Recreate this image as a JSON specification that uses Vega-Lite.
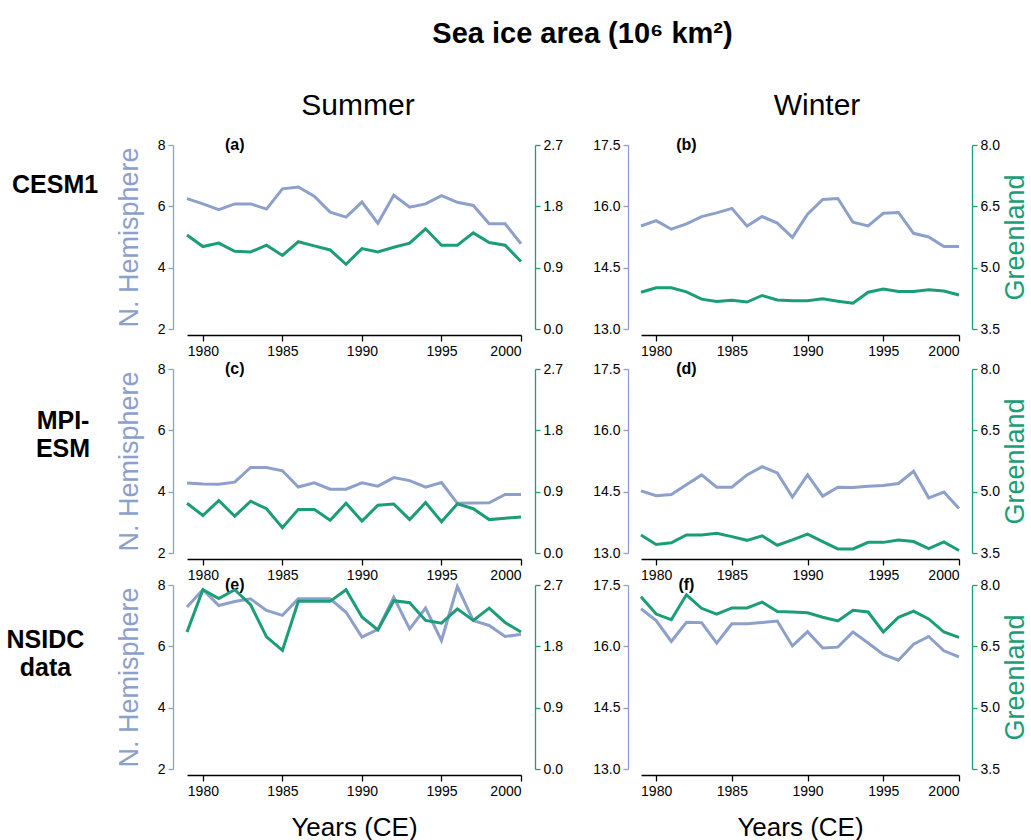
{
  "$schema": "https://vega.github.io/schema/vega-lite/v6.json",
  "padding": {"left": 6, "top": 20, "right": 0, "bottom": 2},
  "background": "white",
  "title": {"text": "Sea ice area (10⁶ km²)", "fontSize": 29, "fontWeight": "bold", "color": "#000", "anchor": "middle", "dx": 65, "offset": 42},
  "config": {
    "font": "Liberation Sans",
    "view": {"stroke": null},
    "axis": {"grid": false, "labelFontSize": 14, "labelColor": "#000", "labelFont": "Liberation Sans", "tickSize": 5, "tickWidth": 1.3, "domainWidth": 1.3, "titleFont": "Liberation Sans", "titleFontWeight": "normal", "labelPadding": 3},
    "title": {"font": "Liberation Sans", "color": "#000"}
  },
  "datasets": {
    "ice": [
      {"model":"CESM1","season":"Summer","year":1979,"nh":6.25,"gl":1.38},
      {"model":"CESM1","season":"Summer","year":1980,"nh":6.08,"gl":1.21},
      {"model":"CESM1","season":"Summer","year":1981,"nh":5.89,"gl":1.26},
      {"model":"CESM1","season":"Summer","year":1982,"nh":6.08,"gl":1.14},
      {"model":"CESM1","season":"Summer","year":1983,"nh":6.08,"gl":1.13},
      {"model":"CESM1","season":"Summer","year":1984,"nh":5.91,"gl":1.23},
      {"model":"CESM1","season":"Summer","year":1985,"nh":6.57,"gl":1.08},
      {"model":"CESM1","season":"Summer","year":1986,"nh":6.63,"gl":1.28},
      {"model":"CESM1","season":"Summer","year":1987,"nh":6.33,"gl":1.22},
      {"model":"CESM1","season":"Summer","year":1988,"nh":5.81,"gl":1.16},
      {"model":"CESM1","season":"Summer","year":1989,"nh":5.65,"gl":0.95},
      {"model":"CESM1","season":"Summer","year":1990,"nh":6.14,"gl":1.18},
      {"model":"CESM1","season":"Summer","year":1991,"nh":5.45,"gl":1.13},
      {"model":"CESM1","season":"Summer","year":1992,"nh":6.36,"gl":1.20},
      {"model":"CESM1","season":"Summer","year":1993,"nh":5.97,"gl":1.26},
      {"model":"CESM1","season":"Summer","year":1994,"nh":6.08,"gl":1.47},
      {"model":"CESM1","season":"Summer","year":1995,"nh":6.35,"gl":1.23},
      {"model":"CESM1","season":"Summer","year":1996,"nh":6.13,"gl":1.23},
      {"model":"CESM1","season":"Summer","year":1997,"nh":6.03,"gl":1.41},
      {"model":"CESM1","season":"Summer","year":1998,"nh":5.43,"gl":1.27},
      {"model":"CESM1","season":"Summer","year":1999,"nh":5.43,"gl":1.23},
      {"model":"CESM1","season":"Summer","year":2000,"nh":4.78,"gl":0.99},
      {"model":"CESM1","season":"Winter","year":1979,"nh":15.52,"gl":4.40},
      {"model":"CESM1","season":"Winter","year":1980,"nh":15.65,"gl":4.51},
      {"model":"CESM1","season":"Winter","year":1981,"nh":15.44,"gl":4.51},
      {"model":"CESM1","season":"Winter","year":1982,"nh":15.57,"gl":4.41},
      {"model":"CESM1","season":"Winter","year":1983,"nh":15.75,"gl":4.23},
      {"model":"CESM1","season":"Winter","year":1984,"nh":15.84,"gl":4.17},
      {"model":"CESM1","season":"Winter","year":1985,"nh":15.95,"gl":4.20},
      {"model":"CESM1","season":"Winter","year":1986,"nh":15.52,"gl":4.16},
      {"model":"CESM1","season":"Winter","year":1987,"nh":15.75,"gl":4.32},
      {"model":"CESM1","season":"Winter","year":1988,"nh":15.59,"gl":4.21},
      {"model":"CESM1","season":"Winter","year":1989,"nh":15.24,"gl":4.19},
      {"model":"CESM1","season":"Winter","year":1990,"nh":15.81,"gl":4.19},
      {"model":"CESM1","season":"Winter","year":1991,"nh":16.17,"gl":4.24},
      {"model":"CESM1","season":"Winter","year":1992,"nh":16.19,"gl":4.18},
      {"model":"CESM1","season":"Winter","year":1993,"nh":15.61,"gl":4.13},
      {"model":"CESM1","season":"Winter","year":1994,"nh":15.52,"gl":4.40},
      {"model":"CESM1","season":"Winter","year":1995,"nh":15.83,"gl":4.48},
      {"model":"CESM1","season":"Winter","year":1996,"nh":15.85,"gl":4.42},
      {"model":"CESM1","season":"Winter","year":1997,"nh":15.34,"gl":4.42},
      {"model":"CESM1","season":"Winter","year":1998,"nh":15.25,"gl":4.46},
      {"model":"CESM1","season":"Winter","year":1999,"nh":15.02,"gl":4.43},
      {"model":"CESM1","season":"Winter","year":2000,"nh":15.02,"gl":4.33},
      {"model":"MPI","season":"Summer","year":1979,"nh":4.28,"gl":0.73},
      {"model":"MPI","season":"Summer","year":1980,"nh":4.25,"gl":0.55},
      {"model":"MPI","season":"Summer","year":1981,"nh":4.24,"gl":0.77},
      {"model":"MPI","season":"Summer","year":1982,"nh":4.31,"gl":0.54},
      {"model":"MPI","season":"Summer","year":1983,"nh":4.79,"gl":0.76},
      {"model":"MPI","season":"Summer","year":1984,"nh":4.79,"gl":0.65},
      {"model":"MPI","season":"Summer","year":1985,"nh":4.68,"gl":0.37},
      {"model":"MPI","season":"Summer","year":1986,"nh":4.15,"gl":0.64},
      {"model":"MPI","season":"Summer","year":1987,"nh":4.29,"gl":0.64},
      {"model":"MPI","season":"Summer","year":1988,"nh":4.08,"gl":0.48},
      {"model":"MPI","season":"Summer","year":1989,"nh":4.08,"gl":0.73},
      {"model":"MPI","season":"Summer","year":1990,"nh":4.29,"gl":0.47},
      {"model":"MPI","season":"Summer","year":1991,"nh":4.18,"gl":0.70},
      {"model":"MPI","season":"Summer","year":1992,"nh":4.46,"gl":0.72},
      {"model":"MPI","season":"Summer","year":1993,"nh":4.36,"gl":0.49},
      {"model":"MPI","season":"Summer","year":1994,"nh":4.15,"gl":0.74},
      {"model":"MPI","season":"Summer","year":1995,"nh":4.30,"gl":0.46},
      {"model":"MPI","season":"Summer","year":1996,"nh":3.62,"gl":0.72},
      {"model":"MPI","season":"Summer","year":1997,"nh":3.63,"gl":0.65},
      {"model":"MPI","season":"Summer","year":1998,"nh":3.64,"gl":0.49},
      {"model":"MPI","season":"Summer","year":1999,"nh":3.91,"gl":0.51},
      {"model":"MPI","season":"Summer","year":2000,"nh":3.91,"gl":0.53},
      {"model":"MPI","season":"Winter","year":1979,"nh":14.52,"gl":3.94},
      {"model":"MPI","season":"Winter","year":1980,"nh":14.40,"gl":3.71},
      {"model":"MPI","season":"Winter","year":1981,"nh":14.43,"gl":3.75},
      {"model":"MPI","season":"Winter","year":1982,"nh":14.67,"gl":3.94},
      {"model":"MPI","season":"Winter","year":1983,"nh":14.91,"gl":3.94},
      {"model":"MPI","season":"Winter","year":1984,"nh":14.61,"gl":3.98},
      {"model":"MPI","season":"Winter","year":1985,"nh":14.61,"gl":3.90},
      {"model":"MPI","season":"Winter","year":1986,"nh":14.91,"gl":3.81},
      {"model":"MPI","season":"Winter","year":1987,"nh":15.11,"gl":3.92},
      {"model":"MPI","season":"Winter","year":1988,"nh":14.96,"gl":3.69},
      {"model":"MPI","season":"Winter","year":1989,"nh":14.37,"gl":3.82},
      {"model":"MPI","season":"Winter","year":1990,"nh":14.91,"gl":3.96},
      {"model":"MPI","season":"Winter","year":1991,"nh":14.39,"gl":3.78},
      {"model":"MPI","season":"Winter","year":1992,"nh":14.61,"gl":3.60},
      {"model":"MPI","season":"Winter","year":1993,"nh":14.60,"gl":3.60},
      {"model":"MPI","season":"Winter","year":1994,"nh":14.63,"gl":3.76},
      {"model":"MPI","season":"Winter","year":1995,"nh":14.65,"gl":3.76},
      {"model":"MPI","season":"Winter","year":1996,"nh":14.70,"gl":3.82},
      {"model":"MPI","season":"Winter","year":1997,"nh":15.00,"gl":3.78},
      {"model":"MPI","season":"Winter","year":1998,"nh":14.35,"gl":3.61},
      {"model":"MPI","season":"Winter","year":1999,"nh":14.49,"gl":3.77},
      {"model":"MPI","season":"Winter","year":2000,"nh":14.09,"gl":3.56},
      {"model":"NSIDC","season":"Summer","year":1979,"nh":7.28,"gl":2.01},
      {"model":"NSIDC","season":"Summer","year":1980,"nh":7.85,"gl":2.63},
      {"model":"NSIDC","season":"Summer","year":1981,"nh":7.33,"gl":2.50},
      {"model":"NSIDC","season":"Summer","year":1982,"nh":7.46,"gl":2.63},
      {"model":"NSIDC","season":"Summer","year":1983,"nh":7.55,"gl":2.41},
      {"model":"NSIDC","season":"Summer","year":1984,"nh":7.17,"gl":1.94},
      {"model":"NSIDC","season":"Summer","year":1985,"nh":7.01,"gl":1.74},
      {"model":"NSIDC","season":"Summer","year":1986,"nh":7.55,"gl":2.46},
      {"model":"NSIDC","season":"Summer","year":1987,"nh":7.55,"gl":2.46},
      {"model":"NSIDC","season":"Summer","year":1988,"nh":7.55,"gl":2.46},
      {"model":"NSIDC","season":"Summer","year":1989,"nh":7.11,"gl":2.63},
      {"model":"NSIDC","season":"Summer","year":1990,"nh":6.30,"gl":2.23},
      {"model":"NSIDC","season":"Summer","year":1991,"nh":6.55,"gl":2.04},
      {"model":"NSIDC","season":"Summer","year":1992,"nh":7.60,"gl":2.47},
      {"model":"NSIDC","season":"Summer","year":1993,"nh":6.57,"gl":2.44},
      {"model":"NSIDC","season":"Summer","year":1994,"nh":7.25,"gl":2.18},
      {"model":"NSIDC","season":"Summer","year":1995,"nh":6.19,"gl":2.14},
      {"model":"NSIDC","season":"Summer","year":1996,"nh":7.95,"gl":2.35},
      {"model":"NSIDC","season":"Summer","year":1997,"nh":6.84,"gl":2.18},
      {"model":"NSIDC","season":"Summer","year":1998,"nh":6.68,"gl":2.36},
      {"model":"NSIDC","season":"Summer","year":1999,"nh":6.32,"gl":2.15},
      {"model":"NSIDC","season":"Summer","year":2000,"nh":6.39,"gl":2.01},
      {"model":"NSIDC","season":"Winter","year":1979,"nh":16.92,"gl":7.71},
      {"model":"NSIDC","season":"Winter","year":1980,"nh":16.63,"gl":7.29},
      {"model":"NSIDC","season":"Winter","year":1981,"nh":16.12,"gl":7.15},
      {"model":"NSIDC","season":"Winter","year":1982,"nh":16.59,"gl":7.76},
      {"model":"NSIDC","season":"Winter","year":1983,"nh":16.58,"gl":7.43},
      {"model":"NSIDC","season":"Winter","year":1984,"nh":16.08,"gl":7.29},
      {"model":"NSIDC","season":"Winter","year":1985,"nh":16.55,"gl":7.44},
      {"model":"NSIDC","season":"Winter","year":1986,"nh":16.55,"gl":7.44},
      {"model":"NSIDC","season":"Winter","year":1987,"nh":16.58,"gl":7.58},
      {"model":"NSIDC","season":"Winter","year":1988,"nh":16.62,"gl":7.35},
      {"model":"NSIDC","season":"Winter","year":1989,"nh":16.01,"gl":7.34},
      {"model":"NSIDC","season":"Winter","year":1990,"nh":16.36,"gl":7.32},
      {"model":"NSIDC","season":"Winter","year":1991,"nh":15.96,"gl":7.21},
      {"model":"NSIDC","season":"Winter","year":1992,"nh":15.98,"gl":7.12},
      {"model":"NSIDC","season":"Winter","year":1993,"nh":16.35,"gl":7.38},
      {"model":"NSIDC","season":"Winter","year":1994,"nh":16.08,"gl":7.34},
      {"model":"NSIDC","season":"Winter","year":1995,"nh":15.80,"gl":6.85},
      {"model":"NSIDC","season":"Winter","year":1996,"nh":15.66,"gl":7.21},
      {"model":"NSIDC","season":"Winter","year":1997,"nh":16.05,"gl":7.36},
      {"model":"NSIDC","season":"Winter","year":1998,"nh":16.24,"gl":7.17},
      {"model":"NSIDC","season":"Winter","year":1999,"nh":15.89,"gl":6.85},
      {"model":"NSIDC","season":"Winter","year":2000,"nh":15.74,"gl":6.72}
    ]
  },
  "spacing": 3,
  "vconcat": [
    {
      "title": {"text": "CESM1", "orient": "left", "angle": 0, "fontSize": 25, "fontWeight": "bold", "align": "center", "baseline": "middle", "offset": -26, "dy": -173},
      "spacing": 29,
      "hconcat": [
        {
          "width": 334, "height": 184,
          "title": {"text": "Summer", "fontSize": 30, "fontWeight": "normal", "offset": 16, "dx": 4},
          "data": {"name": "ice"},
          "transform": [{"filter": "datum.model === 'CESM1' && datum.season === 'Summer'"}],
          "encoding": {"x": {"field": "year", "type": "quantitative", "scale": {"domain": [1979, 2000], "nice": false, "zero": false}, "axis": {"values": [1980, 1985, 1990, 1995, 2000], "format": "d", "offset": 6, "title": null, "domainColor": "#000", "tickColor": "#000", "tickSize": 6}}},
          "layer": [
            {"layer": [
              {"mark": {"type": "line", "color": "#8DA0CB", "strokeWidth": 3},
               "encoding": {"y": {"field": "nh", "type": "quantitative", "scale": {"domain": [2, 8], "nice": false, "zero": false}, "axis": {"orient": "left", "offset": 14, "values": [2, 4, 6, 8], "format": "d", "domainColor": "#8DA0CB", "tickColor": "#8DA0CB", "title": "N. Hemisphere", "titleColor": "#8DA0CB", "titleFontSize": 27, "titlePadding": 14}}}},
              {"transform": [{"filter": "datum.year === 1982"}], "mark": {"type": "text", "text": "(a)", "fontSize": 16, "fontWeight": "bold", "color": "#000"},
               "encoding": {"y": {"datum": 8, "axis": {"orient": "left", "offset": 14, "values": [2, 4, 6, 8], "format": "d", "domainColor": "#8DA0CB", "tickColor": "#8DA0CB", "title": "N. Hemisphere", "titleColor": "#8DA0CB", "titleFontSize": 27, "titlePadding": 14}}}}
            ]},
            {"mark": {"type": "line", "color": "#1B9E77", "strokeWidth": 3},
             "encoding": {"y": {"field": "gl", "type": "quantitative", "scale": {"domain": [0, 2.7], "nice": false, "zero": false}, "axis": {"orient": "right", "offset": 14, "values": [0, 0.9, 1.8, 2.7], "format": ".1f", "domainColor": "#1B9E77", "tickColor": "#1B9E77", "title": null}}}}
          ],
          "resolve": {"scale": {"y": "independent"}}
        },
        {
          "width": 318, "height": 184,
          "title": {"text": "Winter", "fontSize": 30, "fontWeight": "normal", "offset": 16, "dx": 17},
          "data": {"name": "ice"},
          "transform": [{"filter": "datum.model === 'CESM1' && datum.season === 'Winter'"}],
          "encoding": {"x": {"field": "year", "type": "quantitative", "scale": {"domain": [1979, 2000], "nice": false, "zero": false}, "axis": {"values": [1980, 1985, 1990, 1995, 2000], "format": "d", "offset": 6, "title": null, "domainColor": "#000", "tickColor": "#000", "tickSize": 6}}},
          "layer": [
            {"layer": [
              {"mark": {"type": "line", "color": "#8DA0CB", "strokeWidth": 3},
               "encoding": {"y": {"field": "nh", "type": "quantitative", "scale": {"domain": [13, 17.5], "nice": false, "zero": false}, "axis": {"orient": "left", "offset": 13, "values": [13, 14.5, 16, 17.5], "format": ".1f", "domainColor": "#8DA0CB", "tickColor": "#8DA0CB", "title": null}}}},
              {"transform": [{"filter": "datum.year === 1982"}], "mark": {"type": "text", "text": "(b)", "fontSize": 16, "fontWeight": "bold", "color": "#000"},
               "encoding": {"y": {"datum": 17.5, "axis": {"orient": "left", "offset": 13, "values": [13, 14.5, 16, 17.5], "format": ".1f", "domainColor": "#8DA0CB", "tickColor": "#8DA0CB", "title": null}}}}
            ]},
            {"mark": {"type": "line", "color": "#1B9E77", "strokeWidth": 3},
             "encoding": {"y": {"field": "gl", "type": "quantitative", "scale": {"domain": [3.5, 8], "nice": false, "zero": false}, "axis": {"orient": "right", "offset": 13, "values": [3.5, 5, 6.5, 8], "format": ".1f", "domainColor": "#1B9E77", "tickColor": "#1B9E77", "title": "Greenland", "titleColor": "#1B9E77", "titleFontSize": 27, "titleAngle": 270, "titleBaseline": "top", "titlePadding": 3}}}}
          ],
          "resolve": {"scale": {"y": "independent"}}
        }
      ]
    },
    {
      "spacing": -5,
      "vconcat": [
        {
          "title": {"text": ["MPI-", "ESM"], "orient": "left", "angle": 0, "fontSize": 25, "fontWeight": "bold", "align": "center", "baseline": "middle", "offset": -2, "dy": -161, "lineHeight": 28},
          "spacing": 29,
          "hconcat": [
            {
              "width": 334, "height": 184,
              "data": {"name": "ice"},
              "transform": [{"filter": "datum.model === 'MPI' && datum.season === 'Summer'"}],
              "encoding": {"x": {"field": "year", "type": "quantitative", "scale": {"domain": [1979, 2000], "nice": false, "zero": false}, "axis": {"values": [1980, 1985, 1990, 1995, 2000], "format": "d", "offset": 6, "title": null, "domainColor": "#000", "tickColor": "#000", "tickSize": 6}}},
              "layer": [
                {"layer": [
                  {"mark": {"type": "line", "color": "#8DA0CB", "strokeWidth": 3},
                   "encoding": {"y": {"field": "nh", "type": "quantitative", "scale": {"domain": [2, 8], "nice": false, "zero": false}, "axis": {"orient": "left", "offset": 14, "values": [2, 4, 6, 8], "format": "d", "domainColor": "#8DA0CB", "tickColor": "#8DA0CB", "title": "N. Hemisphere", "titleColor": "#8DA0CB", "titleFontSize": 27, "titlePadding": 14}}}},
                  {"transform": [{"filter": "datum.year === 1982"}], "mark": {"type": "text", "text": "(c)", "fontSize": 16, "fontWeight": "bold", "color": "#000"},
                   "encoding": {"y": {"datum": 8, "axis": {"orient": "left", "offset": 14, "values": [2, 4, 6, 8], "format": "d", "domainColor": "#8DA0CB", "tickColor": "#8DA0CB", "title": "N. Hemisphere", "titleColor": "#8DA0CB", "titleFontSize": 27, "titlePadding": 14}}}}
                ]},
                {"mark": {"type": "line", "color": "#1B9E77", "strokeWidth": 3},
                 "encoding": {"y": {"field": "gl", "type": "quantitative", "scale": {"domain": [0, 2.7], "nice": false, "zero": false}, "axis": {"orient": "right", "offset": 14, "values": [0, 0.9, 1.8, 2.7], "format": ".1f", "domainColor": "#1B9E77", "tickColor": "#1B9E77", "title": null}}}}
              ],
              "resolve": {"scale": {"y": "independent"}}
            },
            {
              "width": 318, "height": 184,
              "data": {"name": "ice"},
              "transform": [{"filter": "datum.model === 'MPI' && datum.season === 'Winter'"}],
              "encoding": {"x": {"field": "year", "type": "quantitative", "scale": {"domain": [1979, 2000], "nice": false, "zero": false}, "axis": {"values": [1980, 1985, 1990, 1995, 2000], "format": "d", "offset": 6, "title": null, "domainColor": "#000", "tickColor": "#000", "tickSize": 6}}},
              "layer": [
                {"layer": [
                  {"mark": {"type": "line", "color": "#8DA0CB", "strokeWidth": 3},
                   "encoding": {"y": {"field": "nh", "type": "quantitative", "scale": {"domain": [13, 17.5], "nice": false, "zero": false}, "axis": {"orient": "left", "offset": 13, "values": [13, 14.5, 16, 17.5], "format": ".1f", "domainColor": "#8DA0CB", "tickColor": "#8DA0CB", "title": null}}}},
                  {"transform": [{"filter": "datum.year === 1982"}], "mark": {"type": "text", "text": "(d)", "fontSize": 16, "fontWeight": "bold", "color": "#000"},
                   "encoding": {"y": {"datum": 17.5, "axis": {"orient": "left", "offset": 13, "values": [13, 14.5, 16, 17.5], "format": ".1f", "domainColor": "#8DA0CB", "tickColor": "#8DA0CB", "title": null}}}}
                ]},
                {"mark": {"type": "line", "color": "#1B9E77", "strokeWidth": 3},
                 "encoding": {"y": {"field": "gl", "type": "quantitative", "scale": {"domain": [3.5, 8], "nice": false, "zero": false}, "axis": {"orient": "right", "offset": 13, "values": [3.5, 5, 6.5, 8], "format": ".1f", "domainColor": "#1B9E77", "tickColor": "#1B9E77", "title": "Greenland", "titleColor": "#1B9E77", "titleFontSize": 27, "titleAngle": 270, "titleBaseline": "top", "titlePadding": 3}}}}
              ],
              "resolve": {"scale": {"y": "independent"}}
            }
          ]
        },
        {
          "title": {"text": ["NSIDC", "data"], "orient": "left", "angle": 0, "fontSize": 25, "fontWeight": "bold", "align": "center", "baseline": "middle", "offset": -8, "dy": -200, "lineHeight": 28},
          "spacing": 29,
          "hconcat": [
            {
              "width": 334, "height": 184,
              "data": {"name": "ice"},
              "transform": [{"filter": "datum.model === 'NSIDC' && datum.season === 'Summer'"}],
              "encoding": {"x": {"field": "year", "type": "quantitative", "scale": {"domain": [1979, 2000], "nice": false, "zero": false}, "axis": {"values": [1980, 1985, 1990, 1995, 2000], "format": "d", "offset": 6, "title": "Years (CE)", "titleFontSize": 26, "titlePadding": 16, "titleColor": "#000", "domainColor": "#000", "tickColor": "#000", "tickSize": 6}}},
              "layer": [
                {"layer": [
                  {"mark": {"type": "line", "color": "#8DA0CB", "strokeWidth": 3},
                   "encoding": {"y": {"field": "nh", "type": "quantitative", "scale": {"domain": [2, 8], "nice": false, "zero": false}, "axis": {"orient": "left", "offset": 14, "values": [2, 4, 6, 8], "format": "d", "domainColor": "#8DA0CB", "tickColor": "#8DA0CB", "title": "N. Hemisphere", "titleColor": "#8DA0CB", "titleFontSize": 27, "titlePadding": 14}}}},
                  {"transform": [{"filter": "datum.year === 1982"}], "mark": {"type": "text", "text": "(e)", "fontSize": 16, "fontWeight": "bold", "color": "#000"},
                   "encoding": {"y": {"datum": 8, "axis": {"orient": "left", "offset": 14, "values": [2, 4, 6, 8], "format": "d", "domainColor": "#8DA0CB", "tickColor": "#8DA0CB", "title": "N. Hemisphere", "titleColor": "#8DA0CB", "titleFontSize": 27, "titlePadding": 14}}}}
                ]},
                {"mark": {"type": "line", "color": "#1B9E77", "strokeWidth": 3},
                 "encoding": {"y": {"field": "gl", "type": "quantitative", "scale": {"domain": [0, 2.7], "nice": false, "zero": false}, "axis": {"orient": "right", "offset": 14, "values": [0, 0.9, 1.8, 2.7], "format": ".1f", "domainColor": "#1B9E77", "tickColor": "#1B9E77", "title": null}}}}
              ],
              "resolve": {"scale": {"y": "independent"}}
            },
            {
              "width": 318, "height": 184,
              "data": {"name": "ice"},
              "transform": [{"filter": "datum.model === 'NSIDC' && datum.season === 'Winter'"}],
              "encoding": {"x": {"field": "year", "type": "quantitative", "scale": {"domain": [1979, 2000], "nice": false, "zero": false}, "axis": {"values": [1980, 1985, 1990, 1995, 2000], "format": "d", "offset": 6, "title": "Years (CE)", "titleFontSize": 26, "titlePadding": 16, "titleColor": "#000", "domainColor": "#000", "tickColor": "#000", "tickSize": 6}}},
              "layer": [
                {"layer": [
                  {"mark": {"type": "line", "color": "#8DA0CB", "strokeWidth": 3},
                   "encoding": {"y": {"field": "nh", "type": "quantitative", "scale": {"domain": [13, 17.5], "nice": false, "zero": false}, "axis": {"orient": "left", "offset": 13, "values": [13, 14.5, 16, 17.5], "format": ".1f", "domainColor": "#8DA0CB", "tickColor": "#8DA0CB", "title": null}}}},
                  {"transform": [{"filter": "datum.year === 1982"}], "mark": {"type": "text", "text": "(f)", "fontSize": 16, "fontWeight": "bold", "color": "#000"},
                   "encoding": {"y": {"datum": 17.5, "axis": {"orient": "left", "offset": 13, "values": [13, 14.5, 16, 17.5], "format": ".1f", "domainColor": "#8DA0CB", "tickColor": "#8DA0CB", "title": null}}}}
                ]},
                {"mark": {"type": "line", "color": "#1B9E77", "strokeWidth": 3},
                 "encoding": {"y": {"field": "gl", "type": "quantitative", "scale": {"domain": [3.5, 8], "nice": false, "zero": false}, "axis": {"orient": "right", "offset": 13, "values": [3.5, 5, 6.5, 8], "format": ".1f", "domainColor": "#1B9E77", "tickColor": "#1B9E77", "title": "Greenland", "titleColor": "#1B9E77", "titleFontSize": 27, "titleAngle": 270, "titleBaseline": "top", "titlePadding": 3}}}}
              ],
              "resolve": {"scale": {"y": "independent"}}
            }
          ]
        }
      ]
    }
  ]
}
